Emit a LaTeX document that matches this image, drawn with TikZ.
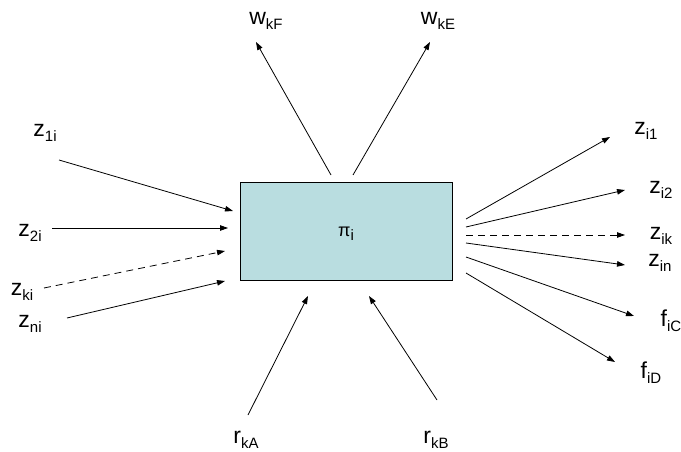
\documentclass[tikz,border=0pt]{standalone}
\usepackage{fontspec}
\setmainfont{Liberation Sans}
\usetikzlibrary{arrows.meta}
\definecolor{boxfill}{RGB}{185,221,224}
\newcommand{\var}[2]{#1\raisebox{-0.4ex}{\fontsize{15}{15}\selectfont #2}}
\tikzset{
  lbl/.style={font=\fontsize{23}{26}\selectfont, inner sep=0pt},
  flow/.style={-{Triangle[length=8pt,width=5.5pt]}, line width=0.8pt},
}
\begin{document}
\begin{tikzpicture}[x=1pt,y=-1pt]
			\useasboundingbox (0,0) rectangle (681,452);
			\node[draw, fill=boxfill, line width=0.8pt, minimum width=212pt, minimum height=98pt, inner sep=0pt] (P) at (346,231) {};
			\node[font=\fontsize{18}{20}\selectfont] (pi) at (346,234) {\var{π}{i}};
			% inputs on the left
			\node[lbl] (Z1) at (45,133) {\var{z}{1i}}; \node[lbl] (Z2) at (30,233) {\var{z}{2i}};
			\node[lbl] (Zk) at (22,292) {\var{z}{ki}}; \node[lbl] (Zn) at (30,324) {\var{z}{ni}};
			\coordinate (a1) at (59,160); \coordinate (b1) at (233,211);
			\coordinate (a2) at (52,228); \coordinate (b2) at (228,228);
			\coordinate (ak) at (44,288); \coordinate (bk) at (225,251);
			\coordinate (an) at (67,318); \coordinate (bn) at (225,281);
			\draw[flow] (a1)--(b1); \draw[flow] (a2)--(b2);
			\draw[flow, dashed, dash pattern=on 7pt off 5pt] (ak)--(bk); \draw[flow] (an)--(bn);
			% outputs on the right
			\node[lbl] (O1) at (646,131) {\var{z}{i1}}; \node[lbl] (O2) at (661,190) {\var{z}{i2}};
			\node[lbl] (Ok) at (661,236) {\var{z}{ik}}; \node[lbl] (On) at (660,263) {\var{z}{in}};
			\node[lbl] (FC) at (671,321) {\var{f}{iC}}; \node[lbl] (FD) at (651,373) {\var{f}{iD}};
			\coordinate (c1) at (466,219); \coordinate (d1) at (610,137);
			\coordinate (c2) at (466,227); \coordinate (d2) at (625,190);
			\coordinate (ck) at (466,235); \coordinate (dk) at (625,235);
			\coordinate (cn) at (466,243); \coordinate (dn) at (625,265);
			\coordinate (cC) at (466,257); \coordinate (dC) at (634,316);
			\coordinate (cD) at (466,273); \coordinate (dD) at (615,362);
			\draw[flow] (c1)--(d1); \draw[flow] (c2)--(d2);
			\draw[flow, dashed, dash pattern=on 7pt off 5pt] (ck)--(dk);
			\draw[flow] (cn)--(dn); \draw[flow] (cC)--(dC); \draw[flow] (cD)--(dD);
			% top and bottom
			\node[lbl] (WF) at (266,21) {\var{w}{kF}}; \node[lbl] (WE) at (438,21) {\var{w}{kE}};
			\node[lbl] (RA) at (246,440) {\var{r}{kA}}; \node[lbl] (RB) at (436,440) {\var{r}{kB}};
			\coordinate (e1) at (331,175); \coordinate (f1) at (256,42);
			\coordinate (e2) at (353,175); \coordinate (f2) at (430,42);
			\coordinate (g1) at (248,415); \coordinate (h1) at (308,296);
			\coordinate (g2) at (437,400); \coordinate (h2) at (369,296);
			\draw[flow] (e1)--(f1); \draw[flow] (e2)--(f2);
			\draw[flow] (g1)--(h1); \draw[flow] (g2)--(h2);
		\end{tikzpicture}
\end{document}
